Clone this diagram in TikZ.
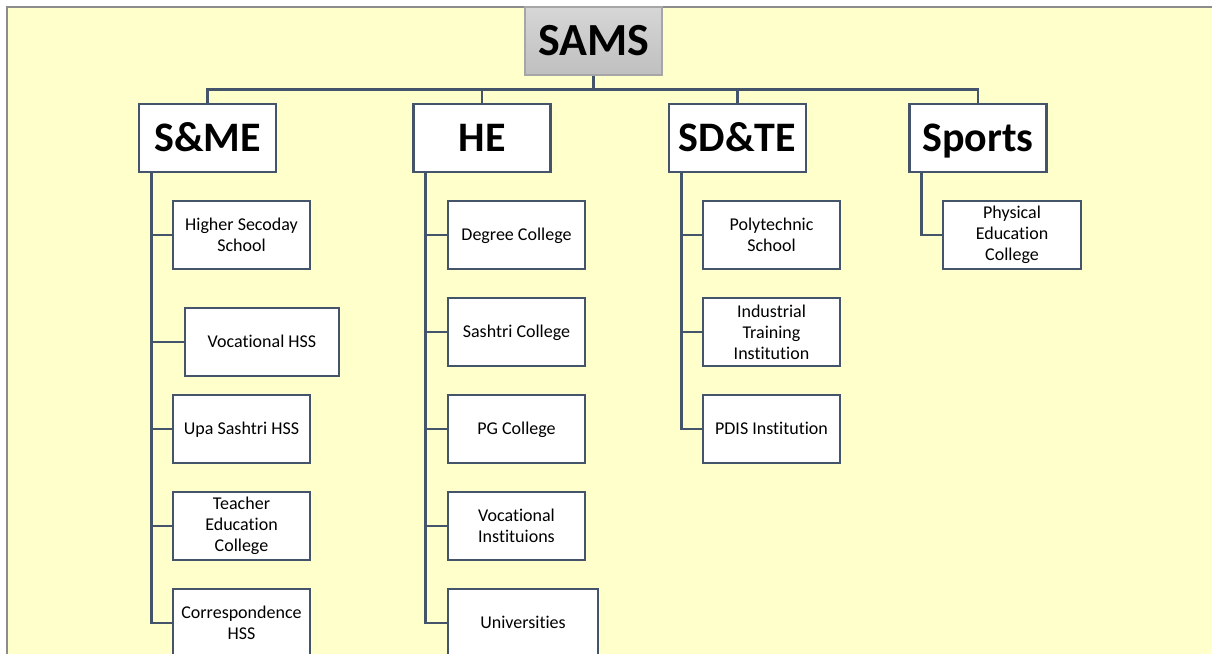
\documentclass[tikz,border=0pt]{standalone}
\usepackage{fontspec}
\setmainfont{Carlito}[Ligatures=NoCommon]
\definecolor{panel}{HTML}{FFFFCC}
\definecolor{frame}{HTML}{8C8C8C}
\definecolor{slate}{HTML}{44546A}
\definecolor{rootedge}{HTML}{A6A6A6}
\begin{document}
\begin{tikzpicture}[x=1pt,y=-1pt,
  unit/.style={draw=slate,line width=2.8pt,fill=white,inner sep=0pt,
    minimum width=137pt,minimum height=68pt,align=center,
    font=\fontsize{18}{21}\selectfont},
  oneline/.style={unit,text height=11.6pt,text depth=0pt},
  head/.style={unit,text height=27pt,text depth=0pt,
    font=\fontsize{42}{46}\selectfont\bfseries},
  root/.style={draw=rootedge,line width=1.2pt,top color=black!16,bottom color=black!25,
    inner sep=0pt,minimum width=137pt,minimum height=68pt,
    text height=29.6pt,text depth=0pt,
    font=\fontsize{46}{50}\selectfont\bfseries},
  link/.style={draw=slate,line width=2.8pt}]
\useasboundingbox (0,0) rectangle (1212,653);
\begin{scope}
\clip (0,0) rectangle (1212,653);
% background panel
\fill[panel] (7,7) rectangle (1230,670);
\draw[frame,line width=2pt] (7,680) -- (7,7) -- (1230,7);

% top level
\node[root] (sams) at (593.5,41) {SAMS};
\node[head] (sme)   at (207.5,138) {S\&ME};
\node[head] (he)    at (482,138)   {HE};
\node[head] (sdte)  at (737.5,138) {SD\&TE};
\node[head] (sport) at (978,138)   {Sports};

% S&ME units
\node[unit] (hss)  at (241.5,235) {Higher Secoday\\School};
\node[oneline,minimum width=154pt] (vhss) at (262,342) {Vocational HSS};
\node[oneline] (upa)  at (241.5,429) {Upa Sashtri HSS};
\node[unit] (tec)  at (241.5,526) {Teacher\\Education\\College};
\node[unit] (corr) at (241.5,623) {Correspondence\\HSS};

% HE units
\node[oneline] (deg)  at (516.5,235) {Degree College};
\node[oneline] (sas)  at (516.5,332) {Sashtri College};
\node[oneline] (pg)   at (516.5,429) {PG College};
\node[unit] (voc)  at (516.5,526) {Vocational\\Instituions};
\node[oneline,minimum width=150pt] (uni) at (523,623) {Universities};

% SD&TE units
\node[unit] (poly) at (771.5,235) {Polytechnic\\School};
\node[unit] (iti)  at (771.5,332) {Industrial\\Training\\Institution};
\node[oneline] (pdis) at (771.5,429) {PDIS Institution};

% Sports unit
\node[unit,minimum width=138pt] (pec) at (1012,235) {Physical\\Education\\College};

% bus from the root to the four heads
\draw[link] (sams.south) -- ++(0,14) coordinate (bus);
\draw[link] (bus) -| (sme.north);
\draw[link] (bus) -| (he.north);
\draw[link] (bus) -| (sdte.north);
\draw[link] (bus) -| (sport.north);

% spines from each head to its units
\foreach \h/\u in {sme/hss,sme/vhss,sme/upa,sme/tec,sme/corr,
                   he/deg,he/sas,he/pg,he/voc,he/uni,
                   sdte/poly,sdte/iti,sdte/pdis,
                   sport/pec}
  \draw[link] ([xshift=13.5pt]\h.south west) |- (\u.west);
\end{scope}
\end{tikzpicture}
\end{document}
